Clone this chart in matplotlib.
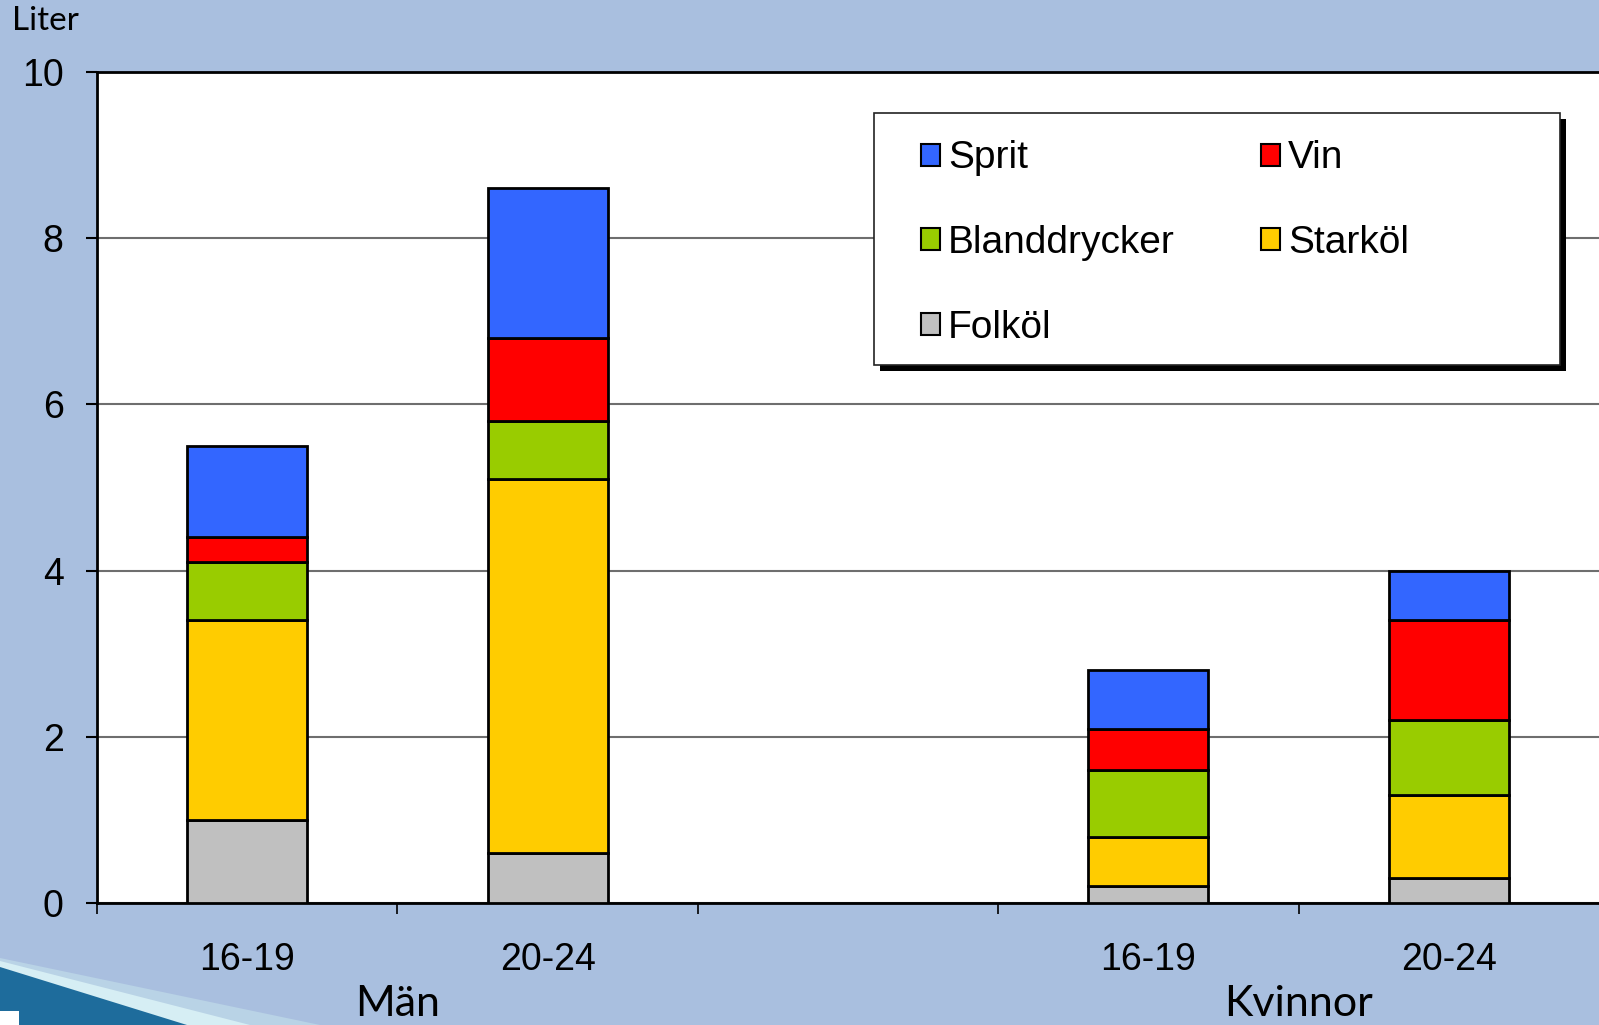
"""
Alkoholkonsumtion per vecka (liter) bland unga män och kvinnor,
fördelat på dryckestyp. Staplade staplar per åldersgrupp.
"""

import numpy as np
import matplotlib.pyplot as plt
from matplotlib.patches import Polygon, Rectangle

# positions 0,1 = Män, 3,4 = Kvinnor (slot 2 empty)
positions = [0, 1, 3, 4]
age_labels = ["16-19", "20-24", "16-19", "20-24"]
groups = ["Män", "Kvinnor"]
group_centers = [0.5, 3.5]

folkol = [1.0, 0.6, 0.2, 0.3]
starkol = [2.4, 4.5, 0.6, 1.0]
blanddrycker = [0.7, 0.7, 0.8, 0.9]
vin = [0.3, 1.0, 0.5, 1.2]
sprit = [1.1, 1.8, 0.7, 0.6]

series_names = ["Folköl", "Starköl", "Blanddrycker", "Vin", "Sprit"]
series_colors = ["#C0C0C0", "#FFCC00", "#99CC00", "#FF0000", "#3366FF"]

BG = "#A9BFDF"
TEXT_FONT = ["Liberation Sans", "DejaVu Sans"]
SLIDE_FONT = ["Lato", "DejaVu Sans"]


def draw_background(fig):
    """Slide decoration in the bottom left corner."""
    W, H = 1599, 1025
    to_fig = lambda pts: [(x / W, 1 - y / H) for x, y in pts]
    fig.patches.append(Polygon(to_fig([(0, 958), (320, 1025), (0, 1025)]),
                               closed=True, transform=fig.transFigure,
                               facecolor="#B9D3E6", edgecolor="none", zorder=0))
    fig.patches.append(Polygon(to_fig([(0, 961), (250, 1025), (0, 1025)]),
                               closed=True, transform=fig.transFigure,
                               facecolor="#D6EEF4", edgecolor="none", zorder=0))
    fig.patches.append(Polygon(to_fig([(0, 967), (187, 1025), (0, 1025)]),
                               closed=True, transform=fig.transFigure,
                               facecolor="#1E6C9C", edgecolor="none", zorder=0))
    fig.patches.append(Rectangle((0, 0), 19 / W, 14 / H, transform=fig.transFigure,
                                 facecolor="white", edgecolor="none", zorder=0))


def plot_chart():
    fig = plt.figure(figsize=(15.99, 10.25), dpi=100, facecolor=BG)
    draw_background(fig)
    ax = fig.add_axes([0.0607, 0.119, 0.9393, 0.8108])
    ax.set_facecolor("white")

    data = [folkol, starkol, blanddrycker, vin, sprit]
    bottom = np.zeros(len(positions))
    bars = {}
    for name, vals, color in zip(series_names, data, series_colors):
        bars[name] = ax.bar(positions, vals, width=0.4, bottom=bottom, color=color,
                            edgecolor="black", linewidth=2, zorder=3, label=name)
        bottom += np.array(vals)

    ax.set_xlim(-0.5, 4.5)
    ax.set_ylim(0, 10)
    ax.set_yticks([0, 2, 4, 6, 8, 10])
    ax.yaxis.grid(True, color="#6E6E6E", linewidth=1.5, zorder=0)
    ax.set_axisbelow(True)

    # boundary ticks between categories, labels centered under bars
    ax.set_xticks([-0.5, 0.5, 1.5, 2.5, 3.5])
    ax.set_xticklabels([])
    ax.set_xticks(positions, minor=True)
    ax.set_xticklabels(age_labels, minor=True, fontsize=27, family=TEXT_FONT)
    ax.tick_params(axis="x", which="major", length=8, width=1.2, direction="out")
    ax.tick_params(axis="x", which="minor", length=0, pad=28)
    ax.tick_params(axis="y", length=8, width=1.5, pad=16, labelsize=27)
    for lab in ax.get_yticklabels():
        lab.set_family(TEXT_FONT)

    for side in ["left", "bottom", "top"]:
        ax.spines[side].set_linewidth(2)
        ax.spines[side].set_color("black")
    ax.spines["right"].set_visible(False)

    for name, xc in zip(groups, group_centers):
        ax.text(xc, -1.22, name, ha="center", va="center", fontsize=31,
                family=SLIDE_FONT, transform=ax.transData, clip_on=False)

    fig.text(12 / 1599, 1 - 21 / 1025, "Liter", ha="left", va="center",
             fontsize=24, family=SLIDE_FONT)

    # legend box with hard black shadow, wider than its content
    box = (0.5173, 0.6474, 0.4567, 0.3032)
    ax.add_patch(Rectangle((box[0] + 0.004, box[1] - 0.0072), box[2], box[3],
                           transform=ax.transAxes, facecolor="black",
                           edgecolor="none", zorder=5))
    ax.add_patch(Rectangle((box[0], box[1]), box[2], box[3],
                           transform=ax.transAxes, facecolor="white",
                           edgecolor="#222222", linewidth=1.2, zorder=6))

    order = ["Sprit", "Blanddrycker", "Folköl", "Vin", "Starköl"]
    leg = ax.legend([bars[n] for n in order], order, ncol=2, loc="upper left",
                    bbox_to_anchor=(0.5486, 0.9176), frameon=False,
                    prop={"family": TEXT_FONT, "size": 28},
                    handlelength=0.5, handleheight=0.5, handletextpad=0.2,
                    labelspacing=1.25, columnspacing=2.2, borderpad=0,
                    borderaxespad=0)
    leg.set_zorder(7)
    for h in leg.legend_handles:
        h.set_linewidth(1.5)

    fig.savefig("out.png", dpi=100, facecolor=BG)


def main():
    plot_chart()


if __name__ == "__main__":
    main()
